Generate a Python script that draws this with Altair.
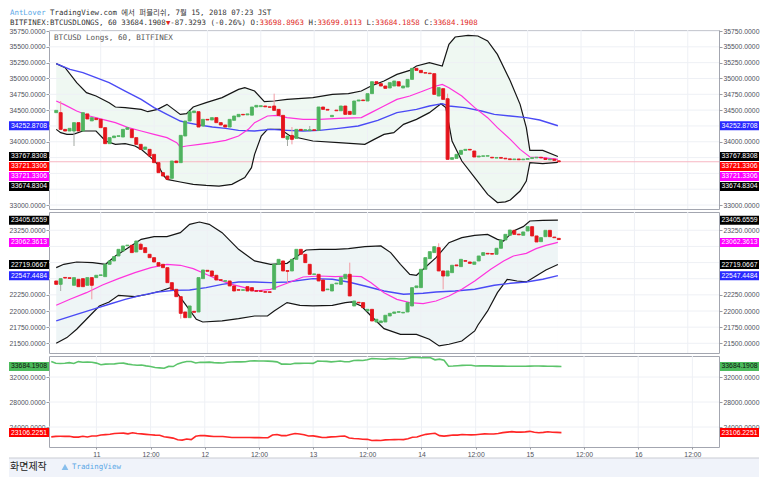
import altair as alt
import pandas as pd

# ---------------- data ----------------
FIRST_HOUR = 14          # first candle: Jul 10, 14:00 ; x = hours since Jul 10 00:00
X_DOMAIN = [13.5, 161.9]
X_TICKS = [24, 36, 48, 60, 72, 84, 96, 108, 120, 132, 144, 156]

TOP_OPEN = [34460, 34460, 34196, 34170, 34170, 34302, 34170, 34440, 34330, 34370,
            34354, 34223, 33970, 34065, 34085, 34075, 34196, 34196, 34065, 33959,
            33880, 33880, 33801, 33670, 33512, 33459, 33422, 33696, 33670, 34091,
            34328, 34460, 34475, 34249, 34354, 34344, 34381, 34302, 34265, 34233,
            34339, 34396, 34433, 34425, 34420, 34549, 34555, 34565, 34552, 34565,
            34512, 34417, 34040, 34100, 34054, 34196, 34180, 34175, 34190, 34180,
            34549, 34512, 34396, 34500, 34490, 34565, 34480, 34433, 34644, 34660,
            34644, 34760, 34949, 34918, 34881, 34850, 34881, 34949, 34850, 34865,
            34986, 35160, 35128, 35092, 35085, 35076, 34723, 34839, 34680, 33722,
            33738, 33801, 33864, 33880, 33854, 33759, 33770, 33772, 33755, 33742,
            33752, 33740, 33730, 33718, 33728, 33716, 33722, 33735, 33745, 33755,
            33740, 33715, 33725, 33698.8963]
TOP_CLOSE = [34496, 34196, 34170, 34212, 34302, 34170, 34460, 34360, 34381, 34350,
             34223, 33970, 34065, 34091, 34095, 34196, 34223, 34065, 33959, 33880,
             33917, 33775, 33670, 33512, 33459, 33406, 33696, 33670, 34101, 34328,
             34475, 34486, 34233, 34354, 34344, 34381, 34302, 34265, 34233, 34354,
             34407, 34433, 34425, 34440, 34549, 34575, 34570, 34552, 34545, 34496,
             34417, 34065, 34091, 34038, 34196, 34180, 34190, 34190, 34180, 34549,
             34512, 34500, 34417, 34490, 34565, 34433, 34433, 34644, 34660, 34650,
             34760, 34949, 34918, 34881, 34844, 34934, 34960, 34881, 34881, 34986,
             35160, 35128, 35092, 35085, 35076, 34749, 34855, 34670, 33722, 33749,
             33801, 33864, 33880, 33870, 33759, 33775, 33778, 33780, 33745, 33752,
             33740, 33730, 33718, 33728, 33716, 33726, 33735, 33750, 33755, 33745,
             33720, 33725, 33705, 33684.1908]
TOP_WICKS = {1: (34644, None), 4: (None, 33933), 49: (34760, None), 52: (None, 33933),
             53: (34233, 33959), 57: (34249, None), 88: (34760, None),
             113: (33699.0113, 33684.1858)}

MID_OPEN = [22465, 22413, 22520, 22515, 22398, 22491, 22501, 22398, 22517, 22517,
            22550, 22532, 22723, 22775, 22852, 22929, 23010, 23017, 22914, 23033,
            22981, 22878, 22826, 22749, 22723, 22671, 22439, 22336, 22222, 21985,
            21897, 21995, 21985, 22501, 22630, 22620, 22553, 22485, 22460, 22465,
            22388, 22330, 22320, 22377, 22362, 22315, 22312, 22300, 22298, 22336,
            22723, 22775, 22625, 22620, 22800, 22955, 22878, 22723, 22565, 22568,
            22480, 22330, 22310, 22420, 22413, 22501, 22568, 22078, 22135, 22130,
            22001, 22026, 21830, 21820, 21830, 21923, 21964, 21980, 21970, 21985,
            22078, 22362, 22362, 22646, 22811, 22904, 22981, 22620, 22542, 22594,
            22713, 22687, 22780, 22759, 22723, 22775, 22862, 22893, 22890, 22878,
            22971, 23100, 23172, 23249, 23190, 23172, 23239, 23306, 23162, 23074,
            23151, 23249, 23145, 23125]
MID_CLOSE = [22413, 22501, 22510, 22505, 22517, 22377, 22377, 22517, 22398, 22553,
             22560, 22723, 22775, 22842, 22955, 23007, 23020, 22904, 23084, 22955,
             22904, 22826, 22759, 22697, 22671, 22439, 22336, 22222, 21964, 21897,
             22078, 21980, 22517, 22635, 22615, 22542, 22480, 22475, 22470, 22388,
             22310, 22322, 22330, 22310, 22310, 22305, 22303, 22290, 22288, 22723,
             22800, 22620, 22615, 22800, 22955, 22878, 22749, 22568, 22575, 22465,
             22310, 22340, 22413, 22432, 22517, 22568, 22233, 22155, 22125, 22052,
             22026, 21846, 21872, 21846, 21934, 21964, 21985, 21990, 21980, 22130,
             22362, 22388, 22646, 22826, 22919, 22996, 22620, 22542, 22620, 22708,
             22700, 22800, 22770, 22738, 22759, 22852, 22904, 22883, 22880, 22971,
             23100, 23187, 23254, 23187, 23180, 23224, 23306, 23162, 23069, 23136,
             23249, 23151, 23135, 23106.2251]
MID_WICKS = {1: (None, 22310), 8: (None, 22181), 19: (23058, None), 28: (None, 21882),
             52: (None, 22439), 66: (22749, None), 86: (23048, None), 87: (None, 22336)}

# indicator lines: (candle position, value)
TOP_UPPER = [(0, 35234), (2.0, 35171), (4.6, 34934), (6.8, 34776), (8.95, 34723), (11.9, 34618),
             (13.3, 34549), (15.5, 34539), (19.1, 34512), (20.6, 34475), (22.8, 34512), (24.9, 34591),
             (26.4, 34512), (27.9, 34433), (29.3, 34444), (30.8, 34549), (33.7, 34618), (37.3, 34697),
             (41.0, 34828), (42.4, 34855), (44.6, 34802), (46.8, 34633), (49.0, 34644), (51.9, 34670),
             (57.7, 34697), (62.1, 34749), (65.7, 34760), (68.6, 34802), (70.8, 34881), (73.7, 34960),
             (76.6, 35065), (79.5, 35128), (81.0, 35197), (83.9, 35250), (86.8, 35197), (88.3, 35539),
             (89.7, 35655), (92.6, 35682), (94.8, 35671), (97.0, 35592), (99.2, 35381), (102.1, 34960),
             (104.3, 34591), (105.7, 34223), (106.5, 33864), (109.4, 33864), (112.8, 33767.8308)]
TOP_LOWER = [(0, 34196), (1.0, 34144), (2.4, 34117), (3.8, 34117), (6.0, 34170), (8.95, 34170),
             (11.1, 34012), (13.3, 33959), (15.5, 33970), (17.7, 33933), (19.1, 33880), (21.3, 33749),
             (22.8, 33643), (24.2, 33459), (24.9, 33406), (27.9, 33364), (30.8, 33327), (33.7, 33311),
             (36.6, 33300), (39.5, 33327), (42.4, 33433), (43.9, 33591), (44.6, 33801), (46.1, 34091),
             (47.5, 34196), (50.4, 34196), (52.6, 34091), (57.7, 34012), (63.5, 33986), (69.4, 33959),
             (71.5, 34038), (73.7, 34117), (75.9, 34144), (78.1, 34275), (81.0, 34354), (83.9, 34460),
             (86.5, 34602), (87.6, 34539), (89.0, 34012), (91.2, 33696), (94.1, 33433), (97.0, 33169),
             (99.2, 33040), (101.0, 33050), (102.1, 33080), (104.3, 33222), (105.7, 33380),
             (106.5, 33670), (109.4, 33654), (112.8, 33674.8304)]
TOP_BLUE = [(0, 35234), (3.1, 35144), (6.0, 35092), (8.95, 35013), (11.9, 34934), (15.5, 34802),
            (19.1, 34670), (22.0, 34539), (24.9, 34433), (27.9, 34328), (29.3, 34302), (32.2, 34265),
            (35.1, 34233), (38.1, 34212), (41.0, 34180), (44.6, 34170), (48.2, 34196), (51.9, 34180),
            (55.5, 34170), (59.2, 34180), (63.5, 34212), (67.9, 34249), (72.3, 34339), (76.6, 34460),
            (81.0, 34512), (83.9, 34565), (86.8, 34602), (88.3, 34565), (91.9, 34539), (95.6, 34486),
            (98.5, 34433), (102.1, 34407), (105.7, 34381), (108.7, 34344), (112.8, 34252.8708)]
TOP_MAG = [(0, 34644), (1.7, 34591), (4.6, 34486), (7.5, 34407), (10.4, 34354), (13.3, 34302),
           (16.2, 34223), (19.1, 34170), (22.0, 34117), (24.9, 34065), (27.1, 33986), (27.9, 33917),
           (29.3, 33933), (32.2, 33959), (35.1, 33986), (38.1, 34022), (41.0, 34091), (43.2, 34196),
           (44.6, 34302), (47.5, 34407), (49.7, 34417), (51.9, 34381), (55.5, 34354), (59.2, 34354),
           (63.5, 34370), (68.6, 34381), (70.8, 34460), (73.7, 34565), (76.6, 34670), (79.5, 34723),
           (82.5, 34802), (85.4, 34881), (86.8, 34907), (88.3, 34855), (91.2, 34723), (94.1, 34539),
           (97.0, 34381), (99.2, 34223), (102.1, 34038), (104.3, 33880), (106.5, 33759),
           (109.4, 33749), (112.8, 33721.3306)]

MID_UPPER = [(0, 22671), (1.7, 22723), (4.6, 22759), (8.2, 22749), (11.1, 22723), (13.3, 22852),
             (16.2, 22981), (19.1, 23110), (22.0, 23151), (24.9, 23151), (27.9, 23213), (30.0, 23342),
             (32.2, 23378), (34.4, 23342), (37.3, 23213), (41.0, 22955), (44.6, 22775), (48.2, 22723),
             (51.9, 22738), (54.8, 22878), (56.2, 22945), (59.2, 22955), (62.8, 22955), (65.7, 22966),
             (69.4, 22996), (73.0, 23007), (75.2, 22904), (77.4, 22723), (79.5, 22568), (81.0, 22553),
             (82.5, 22646), (85.4, 22826), (88.3, 23058), (91.2, 23136), (94.1, 23172), (97.0, 23187),
             (99.2, 23110), (100.6, 23084), (102.8, 23239), (105.0, 23306), (106.5, 23394),
             (109.4, 23404), (112.8, 23405.6559)]
MID_LOWER = [(0, 21500), (2.4, 21588), (4.6, 21717), (7.5, 21923), (9.7, 22078), (11.9, 22140),
             (14.0, 22243), (17.7, 22222), (20.6, 22259), (23.5, 22310), (25.7, 22362), (27.1, 22284),
             (29.3, 22078), (31.5, 21872), (32.95, 21830), (37.3, 21846), (41.0, 21882), (44.6, 21923),
             (47.5, 21923), (49.0, 22001), (51.9, 22130), (54.8, 22088), (57.7, 22078), (62.1, 22088),
             (65.0, 22130), (66.5, 22140), (68.6, 22078), (70.8, 21923), (73.7, 21727), (77.4, 21639),
             (81.0, 21639), (83.9, 21562), (86.1, 21459), (88.3, 21485), (91.2, 21536), (94.1, 21691),
             (94.8, 21780), (97.0, 22001), (99.2, 22284), (101.4, 22491), (103.6, 22465),
             (105.7, 22450), (107.9, 22542), (110.1, 22635), (112.8, 22719.0667)]
MID_BLUE = [(0, 21846), (4.6, 21949), (8.2, 22026), (11.9, 22104), (15.5, 22181), (19.1, 22243),
            (22.8, 22295), (26.4, 22320), (30.0, 22326), (33.7, 22362), (37.3, 22413), (41.0, 22450),
            (44.6, 22450), (48.2, 22439), (51.9, 22450), (57.7, 22501), (62.1, 22491), (65.7, 22450),
            (69.4, 22388), (73.7, 22310), (78.1, 22259), (82.5, 22274), (85.4, 22295), (89.7, 22310),
            (94.1, 22336), (98.5, 22398), (102.1, 22429), (105.7, 22450), (109.4, 22491),
            (112.8, 22547.4484)]
MID_MAG = [(0, 22088), (3.1, 22181), (6.8, 22284), (10.4, 22403), (14.0, 22501), (17.7, 22594),
           (21.3, 22671), (24.9, 22723), (27.9, 22708), (30.8, 22656), (33.7, 22568), (36.6, 22480),
           (39.5, 22413), (42.4, 22362), (44.6, 22310), (48.2, 22336), (51.9, 22429), (55.5, 22527),
           (59.2, 22542), (62.8, 22532), (65.7, 22542), (68.6, 22532), (70.8, 22439), (73.7, 22284),
           (76.6, 22181), (79.5, 22130), (82.5, 22114), (85.4, 22155), (88.3, 22233), (91.2, 22336),
           (94.1, 22465), (97.7, 22646), (100.6, 22775), (102.8, 22852), (105.7, 22893),
           (107.9, 22966), (110.1, 23017), (112.8, 23062.3613)]

TOP_TICKS = [33000, 33250, 33500, 33750, 34000, 34250, 34500, 34750, 35000, 35250, 35500, 35750]
MID_TICKS = [21500, 21750, 22000, 22250, 22500, 22750, 23000, 23250]
BOT_TICKS = [24000, 28000, 32000]

TOP_TAGS = [(34252.8708, "#2828ff", "#ffffff"), (33767.8308, "#000000", "#ffffff"),
            (33721.3306, "#ff0000", "#ffffff"), (33721.3306, "#ff00ff", "#ffffff"),
            (33674.8304, "#000000", "#ffffff")]
MID_TAGS = [(23405.6559, "#000000", "#ffffff"), (23062.3613, "#ff00ff", "#ffffff"),
            (22719.0667, "#000000", "#ffffff"), (22547.4484, "#2828ff", "#ffffff")]
BOT_TAGS = [(33684.1908, "#4cbb5c", "#111111"), (23106.2251, "#ff0000", "#ffffff")]

HEADER_1 = [("AntLover", "#5aa7e6"), (" TradingView.com 에서 퍼블리쉬, 7월 15, 2018 07:23 JST", "#333333")]
HEADER_2 = [("BITFINEX:BTCUSDLONGS, 60 33684.1908", "#333333"), ("▼", "#e0281e"),
            ("-87.3293 (-0.26%) O:", "#333333"), ("33698.8963", "#e0281e"), (" H:", "#333333"),
            ("33699.0113", "#e0281e"), (" L:", "#333333"), ("33684.1858", "#e0281e"),
            (" C:", "#333333"), ("33684.1908", "#e0281e")]
LEGEND = "BTCUSD Longs, 60, BITFINEX"

# ---------------- styling ----------------
W = 670
GUT = 40
H_TOP, H_MID, H_BOT = 179, 141, 91
TOP_DOMAIN = [32937.6, 35766.0]
MID_DOMAIN = [21349.8, 23533.0]
BOT_DOMAIN = [20800.0, 35360.0]
GREEN, RED = "#4fb35f", "#e5141c"
GREEN_WICK, RED_WICK = "#a4aaa4", "#f29aa2"
BB, BLUE, MAG = "#151515", "#4a4af5", "#ff33dd"
GRID = "#eef0f5"
LABEL = "#4f525c"
FONT = "Liberation Sans"
MONO = "DejaVu Sans Mono, Noto Sans CJK KR"
LBL = 6.8
HDR = 7.4

xs = alt.Scale(domain=X_DOMAIN, nice=False, zero=False)


def yscale(d):
    return alt.Scale(domain=d, nice=False, zero=False)


def X(field="h:Q"):
    return alt.X(field, scale=xs, axis=None)


def line_df(pairs):
    return pd.DataFrame({"h": [FIRST_HOUR + a for a, _ in pairs], "v": [b for _, b in pairs]})


def candle_layers(opens, closes, wicks, ys):
    rows = []
    for i, (o, c) in enumerate(zip(opens, closes)):
        up = c >= o
        hi, lo = wicks.get(i, (None, None))
        rows.append(dict(h=FIRST_HOUR + i, top=max(o, c), bot=min(o, c),
                         hi=max(o, c) if hi is None else hi, lo=min(o, c) if lo is None else lo,
                         fill=GREEN if up else RED, wick=GREEN_WICK if up else RED_WICK,
                         haswick=i in wicks))
    df = pd.DataFrame(rows)
    wk = alt.Chart(df[df.haswick]).mark_rule(strokeWidth=1).encode(
        x=X(), y=alt.Y("hi:Q", scale=ys, axis=None), y2="lo:Q",
        color=alt.Color("wick:N", scale=None))
    body = alt.Chart(df).mark_bar(width=3, strokeWidth=0.9).encode(
        x=X(), y=alt.Y("top:Q", scale=ys, axis=None), y2="bot:Q",
        color=alt.Color("fill:N", scale=None), stroke=alt.Stroke("fill:N", scale=None))
    return [wk, body]


def tag_rows(tags, dom, height):
    k = height / (dom[1] - dom[0])
    rows, prev = [], None
    for v, bg, fg in sorted(tags, key=lambda r: -r[0]):
        y = (dom[1] - v) * k
        if prev is not None and y < prev + 10:
            y = prev + 10
        prev = y
        rows.append(dict(d=dom[1] - y / k, px=y, t=f"{v:.4f}", bg=bg, fg=fg))
    return rows


def axis_layers(ticks, tags, dom, height, ys):
    k = height / (dom[1] - dom[0])
    covered = [r["px"] for r in tag_rows(tags, dom, height)]
    shown = [t for t in ticks if all(abs((dom[1] - t) * k - p) > 5 for p in covered)]
    df = pd.DataFrame({"v": ticks})
    common = dict(values=shown, format=".4f", grid=False, domain=False, ticks=True, tickSize=3,
                  tickColor="#9a9ca3", labelFontSize=LBL, labelFont=FONT, labelColor=LABEL,
                  labelPadding=1, labelOverlap=False, title=None, zindex=0)
    left = alt.Chart(df).mark_rule(color=GRID, strokeWidth=1).encode(
        y=alt.Y("v:Q", scale=ys, axis=alt.Axis(orient="left", **common)))
    right = alt.Chart(df).mark_rule(strokeOpacity=0).encode(
        y=alt.Y("v:Q", scale=ys, axis=alt.Axis(orient="right", **common)))
    return [left, right]


def vgrid(with_axis=False):
    ax = None
    if with_axis:
        ax = alt.Axis(values=X_TICKS,
                      labelExpr="datum.value % 24 == 0 ? toString(10 + datum.value / 24) : '12:00'",
                      grid=False, domain=False, ticks=True, tickSize=2, tickColor="#9a9ca3",
                      labelFontSize=LBL, labelFont=FONT, labelColor=LABEL, labelPadding=2,
                      labelFlush=False, labelOverlap=False, title=None)
    return alt.Chart(pd.DataFrame({"h": X_TICKS})).mark_rule(color=GRID, strokeWidth=1).encode(
        x=alt.X("h:Q", scale=xs, axis=ax))


def band_layers(upper, lower, fill, ys, height):
    area = alt.Chart(line_df(upper)).mark_area(color=fill, clip=True).encode(
        x=X(), y=alt.Y("v:Q", scale=ys, axis=None), y2=alt.value(height))
    mask = alt.Chart(line_df(lower)).mark_area(color="#ffffff", clip=True).encode(
        x=X(), y=alt.Y("v:Q", scale=ys, axis=None), y2=alt.value(height))
    return [area, mask]


def line_layers(specs, ys):
    out = []
    for pairs, col, w in specs:
        out.append(alt.Chart(line_df(pairs)).mark_line(color=col, strokeWidth=w, clip=True).encode(
            x=X(), y=alt.Y("v:Q", scale=ys, axis=None)))
    return out


def tag_layers(tags, dom, height):
    df = pd.DataFrame(tag_rows(tags, dom, height))
    ys = yscale(dom)
    out = []
    for x0, x1 in ((-GUT, 0), (W + 1, W + GUT)):
        out.append(alt.Chart(df).mark_rect(yOffset=-4.5, y2Offset=4.5).encode(
            x=alt.value(x0), x2=alt.value(x1), y=alt.Y("d:Q", scale=ys, axis=None), y2="d:Q",
            color=alt.Color("bg:N", scale=None)))
        out.append(alt.Chart(df).mark_text(fontSize=LBL, font=FONT, baseline="middle").encode(
            x=alt.value((x0 + x1) / 2), y=alt.Y("d:Q", scale=ys, axis=None), text="t:N",
            color=alt.Color("fg:N", scale=None)))
    return out


ONE = pd.DataFrame({"a": [0]})


def label(text, x, y, color, size, font, **kw):
    return alt.Chart(ONE).mark_text(text=text, align="left", baseline="middle", fontSize=size,
                                    font=font, color=color, **kw).encode(
        x=alt.value(x), y=alt.value(y))


def header_layers():
    # monospace: segment start = characters before it; leading blanks are skipped
    out = []
    cw = 0.602 * HDR
    for segs, yy in ((HEADER_1, -17), (HEADER_2, -7)):
        pos = 0
        for s, col in segs:
            lead = len(s) - len(s.lstrip(" "))
            out.append(label(s.lstrip(" "), -GUT + 1 + (pos + lead) * cw, yy, col, HDR, MONO))
            pos += len(s)
    return out


# ---------------- panes ----------------
ys_top = yscale(TOP_DOMAIN)
top = alt.layer(
    *band_layers(TOP_UPPER, TOP_LOWER, "#eff8f2", ys_top, H_TOP),
    vgrid(),
    *axis_layers(TOP_TICKS, TOP_TAGS, TOP_DOMAIN, H_TOP, ys_top),
    alt.Chart(pd.DataFrame({"v": [TOP_CLOSE[-1]]})).mark_rule(color="#f7b6c2", strokeWidth=1).encode(
        y=alt.Y("v:Q", scale=ys_top, axis=None)),
    *line_layers([(TOP_UPPER, BB, 1.2), (TOP_LOWER, BB, 1.2), (TOP_BLUE, BLUE, 1.4), (TOP_MAG, MAG, 1.2)], ys_top),
    *candle_layers(TOP_OPEN, TOP_CLOSE, TOP_WICKS, ys_top),
    *tag_layers(TOP_TAGS, TOP_DOMAIN, H_TOP),
    label(LEGEND, 5, 8, "#555555", 7.6, MONO),
    *header_layers(),
).properties(width=W, height=H_TOP).resolve_axis(x="independent", y="independent")

ys_mid = yscale(MID_DOMAIN)
mid = alt.layer(
    *band_layers(MID_UPPER, MID_LOWER, "#eef5f6", ys_mid, H_MID),
    vgrid(),
    *axis_layers(MID_TICKS, MID_TAGS, MID_DOMAIN, H_MID, ys_mid),
    *line_layers([(MID_UPPER, BB, 1.2), (MID_LOWER, BB, 1.2), (MID_BLUE, BLUE, 1.4), (MID_MAG, MAG, 1.2)], ys_mid),
    *candle_layers(MID_OPEN, MID_CLOSE, MID_WICKS, ys_mid),
    *tag_layers(MID_TAGS, MID_DOMAIN, H_MID),
).properties(width=W, height=H_MID).resolve_axis(x="independent", y="independent")

ys_bot = yscale(BOT_DOMAIN)
bot_df = pd.DataFrame({"h": [FIRST_HOUR + i for i in range(len(TOP_CLOSE))],
                       "g": TOP_CLOSE, "r": MID_CLOSE})
footer = [
    alt.Chart(ONE).mark_rect(color="#f0f3fa").encode(
        x=alt.value(-GUT), x2=alt.value(W + GUT), y=alt.value(H_BOT + 11), y2=alt.value(H_BOT + 31)),
    alt.Chart(ONE).mark_rule(color="#c9ccd3", strokeWidth=1).encode(
        x=alt.value(-GUT), x2=alt.value(W + GUT), y=alt.value(H_BOT + 11)),
    label("화면제작", -GUT + 1, H_BOT + 20, "#222222", 10, "Noto Sans CJK KR"),
    alt.Chart(ONE).mark_point(shape="triangle-up", filled=True, size=45, color="#5aa7e6").encode(
        x=alt.value(16), y=alt.value(H_BOT + 20)),
    label("TradingView", 23, H_BOT + 20, "#5aa7e6", 7.4, MONO),
]
bot = alt.layer(
    vgrid(with_axis=True),
    *axis_layers(BOT_TICKS, BOT_TAGS, BOT_DOMAIN, H_BOT, ys_bot),
    alt.Chart(bot_df).mark_line(color="#5cc46b", strokeWidth=1.6, clip=True).encode(
        x=X(), y=alt.Y("g:Q", scale=ys_bot, axis=None)),
    alt.Chart(bot_df).mark_line(color="#ff2626", strokeWidth=1.6, clip=True).encode(
        x=X(), y=alt.Y("r:Q", scale=ys_bot, axis=None)),
    *tag_layers(BOT_TAGS, BOT_DOMAIN, H_BOT),
    *footer,
).properties(width=W, height=H_BOT).resolve_axis(x="independent", y="independent")

chart = alt.vconcat(top, mid, bot, spacing=3, bounds="flush").properties(
    padding=0, background="#ffffff"
).configure_view(stroke="#a3a6b0", strokeWidth=1)

chart.save("out.html", embed_options={"renderer": "svg", "actions": False})
